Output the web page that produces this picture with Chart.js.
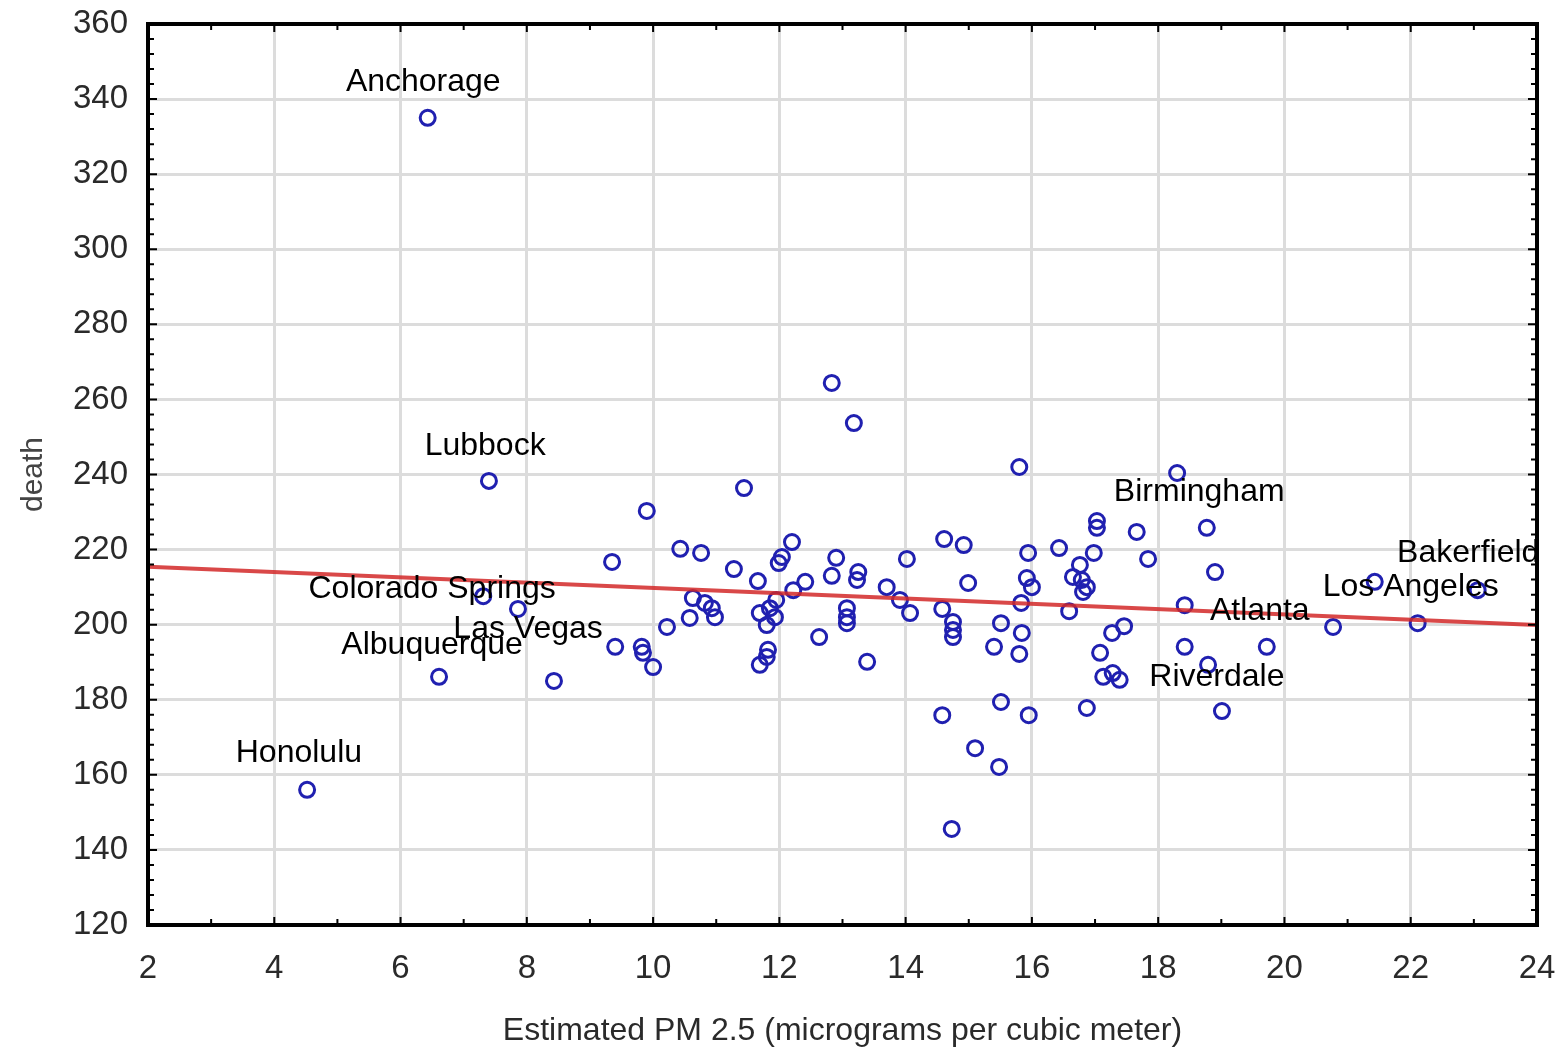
<!DOCTYPE html>
<html>
<head>
<meta charset="utf-8">
<title>PM 2.5 vs death</title>
<script src="https://cdn.jsdelivr.net/npm/chart.js@4.4.1/dist/chart.umd.min.js"></script>
<style>
  html, body { margin: 0; padding: 0; background: #fff; }
  #wrap { width: 1563px; height: 1050px; position: relative; }
</style>
</head>
<body>
<div id="wrap"><canvas id="chart"></canvas></div>
<script>
// ---- data -----------------------------------------------------------
const pmX = [
  6.43, 7.40, 4.52, 6.61, 7.31, 7.86, 8.43, 9.35, 9.40, 9.82,
  9.84, 10.00, 9.90, 10.22, 10.43, 10.76, 10.63, 10.58, 10.82, 10.93,
  10.98, 11.28, 11.44, 11.66, 11.69, 11.85, 11.93, 11.80, 11.82, 11.80,
  11.69, 11.99, 12.04, 11.95, 12.20, 12.41, 12.22, 12.63, 12.83, 12.83,
  12.90, 13.07, 13.07, 13.07, 13.18, 13.25, 13.23, 13.39, 13.70, 13.91,
  14.02, 14.07, 14.61, 14.92, 14.58, 14.75, 14.75, 14.75, 14.99, 14.58,
  14.73, 15.10, 15.48, 15.51, 15.40, 15.51, 15.80, 15.80, 15.83, 15.84,
  15.92, 16.00, 15.94, 15.95, 16.43, 16.59, 16.65, 16.76, 16.79, 16.87,
  16.81, 16.87, 16.98, 17.03, 17.03, 17.08, 17.13, 17.28, 17.39, 17.27,
  17.46, 17.66, 17.84, 18.30, 18.77, 18.90, 18.42, 18.42, 18.79, 19.01,
  19.72, 20.77, 21.43, 22.11, 23.06
];
const deaths = [
  335.0, 238.3, 156.0, 186.1, 207.6, 204.2, 185.0, 216.7, 194.1, 194.1,
  192.5, 188.7, 230.3, 199.4, 220.2, 219.1, 207.1, 201.8, 205.8, 204.4,
  202.0, 214.8, 236.4, 211.6, 203.1, 204.4, 202.0, 199.9, 193.3, 191.4,
  189.3, 216.4, 218.0, 206.6, 222.0, 211.4, 209.2, 196.7, 264.4, 213.0,
  217.8, 204.4, 202.0, 200.4, 253.7, 214.0, 211.9, 190.1, 210.0, 206.6,
  217.5, 203.1, 222.8, 221.2, 204.2, 200.7, 198.6, 196.7, 211.1, 175.9,
  145.6, 167.1, 162.1, 179.4, 194.1, 200.4, 242.0, 192.2, 205.8, 197.8,
  212.4, 210.0, 219.1, 175.9, 220.4, 203.6, 212.7, 215.9, 211.9, 210.0,
  208.7, 177.8, 219.1, 227.6, 225.8, 192.5, 186.1, 187.1, 185.3, 197.8,
  199.6, 224.7, 217.5, 240.4, 225.8, 214.0, 205.2, 194.1, 189.3, 177.0,
  194.1, 199.4, 211.4, 200.4, 209.2
];

// fitted line, end points as drawn
const fitX = [2, 24];
const fitY = [215.4, 199.9];

// city labels, anchored at the text centre (data units)
const cityNames = ["Anchorage", "Lubbock", "Birmingham", "Bakerfield", "Los Angeles",
  "Atlanta", "Riverdale", "Colorado Springs", "Las Vegas", "Albuquerque", "Honolulu"];
const cityX = [6.36, 7.34, 18.65, 22.91, 22.0, 19.61, 18.93, 6.50, 8.02, 6.50, 4.39];
const cityY = [344.6, 247.6, 235.3, 219.1, 210.0, 203.6, 186.1, 209.5, 198.8, 194.6, 165.8];

const xTicks = { min: 2, max: 24, step: 2 };
const yTicks = { min: 120, max: 360, step: 20 };

const FONT = "'Liberation Sans', Arial, Helvetica, sans-serif";

// ---- plugins --------------------------------------------------------
// black frame with small inward ticks on all four sides
const framePlugin = {
  id: "frame",
  afterDraw(chart) {
    const { ctx, chartArea: a, scales } = chart;
    const xs = scales.x, ys = scales.y;
    ctx.save();
    ctx.strokeStyle = "#000";
    ctx.lineWidth = 2;
    ctx.beginPath();
    for (let v = xTicks.min; v <= xTicks.max; v += 1) {
      const px = xs.getPixelForValue(v);
      const len = v % 2 === 0 ? 8 : 6;
      ctx.moveTo(px, a.bottom); ctx.lineTo(px, a.bottom - len);
      ctx.moveTo(px, a.top); ctx.lineTo(px, a.top + len);
    }
    for (let v = yTicks.min; v <= yTicks.max; v += 4) {
      const py = ys.getPixelForValue(v);
      const len = v % 20 === 0 ? 9 : 6;
      ctx.moveTo(a.left, py); ctx.lineTo(a.left + len, py);
      ctx.moveTo(a.right, py); ctx.lineTo(a.right - len, py);
    }
    ctx.stroke();
    ctx.lineWidth = 4;
    ctx.strokeRect(a.left, a.top, a.right - a.left, a.bottom - a.top);
    ctx.restore();
  },
};

// city names drawn at their anchors, clipped to the plot
const cityLabelPlugin = {
  id: "cityLabels",
  afterDatasetsDraw(chart) {
    const { ctx, chartArea: a, scales } = chart;
    ctx.save();
    ctx.beginPath();
    ctx.rect(a.left, a.top, a.right - a.left, a.bottom - a.top);
    ctx.clip();
    ctx.font = `32px ${FONT}`;
    ctx.fillStyle = "#000";
    ctx.textAlign = "center";
    ctx.textBaseline = "middle";
    cityNames.forEach((name, i) => {
      ctx.fillText(name, scales.x.getPixelForValue(cityX[i]), scales.y.getPixelForValue(cityY[i]));
    });
    ctx.restore();
  },
};

// ---- chart ----------------------------------------------------------
new Chart(document.getElementById("chart"), {
  type: "scatter",
  data: {
    datasets: [
      {
        label: "death",
        data: pmX.map((x, i) => ({ x, y: deaths[i] })),
        pointStyle: "circle",
        pointRadius: 7.5,
        borderWidth: 3,
        borderColor: "#2020b0",
        backgroundColor: "rgba(0,0,0,0)",
        order: 1,
      },
      {
        label: "fit",
        type: "line",
        data: fitX.map((x, i) => ({ x, y: fitY[i] })),
        showLine: true,
        pointRadius: 0,
        borderColor: "rgba(210,40,40,0.85)",
        borderWidth: 4,
        order: 0,
      },
    ],
  },
  options: {
    responsive: true,
    maintainAspectRatio: false,
    animation: false,
    layout: { autoPadding: false, padding: { top: 24, right: 26, left: 0, bottom: 0 } },
    plugins: { legend: { display: false }, tooltip: { enabled: false } },
    scales: {
      x: {
        type: "linear",
        min: xTicks.min,
        max: xTicks.max,
        ticks: { stepSize: xTicks.step, padding: 24, color: "#2a2a2a", font: { family: FONT, size: 33 } },
        grid: { color: "#dcdcdc", lineWidth: 3, drawTicks: false },
        border: { display: false },
        title: {
          display: true,
          text: "Estimated PM 2.5 (micrograms per cubic meter)",
          color: "#2a2a2a",
          font: { family: FONT, size: 32 },
          padding: { top: 0, bottom: 0 },
        },
        afterFit: (s) => {
          s.height = 125;
          s.paddingLeft = 0;
          s.paddingRight = 0;
        },
      },
      y: {
        type: "linear",
        min: yTicks.min,
        max: yTicks.max,
        ticks: { stepSize: yTicks.step, padding: 20, color: "#2a2a2a", font: { family: FONT, size: 33 } },
        grid: { color: "#dcdcdc", lineWidth: 3, drawTicks: false },
        border: { display: false },
        title: {
          display: true,
          text: "death",
          color: "#444",
          font: { family: FONT, size: 30 },
          padding: { top: 16, bottom: 0 },
        },
        afterFit: (s) => {
          s.width = 148;
          s.paddingTop = 0;
          s.paddingBottom = 0;
        },
      },
    },
  },
  plugins: [framePlugin, cityLabelPlugin],
});
</script>
</body>
</html>
